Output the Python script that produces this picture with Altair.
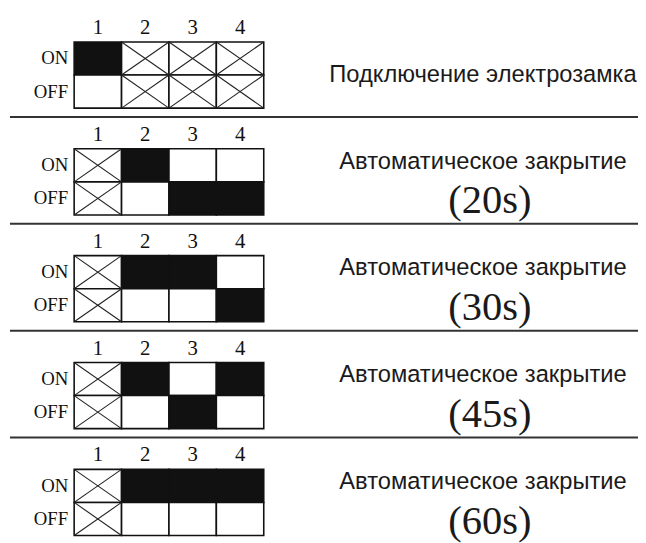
import altair as alt
import pandas as pd

# ---------------- data ----------------
switch_numbers = ["1", "2", "3", "4"]
row_labels = ["ON", "OFF"]
descriptions = [
    "Подключение электрозамка",
    "Автоматическое закрытие",
    "Автоматическое закрытие",
    "Автоматическое закрытие",
    "Автоматическое закрытие",
]
timings = ["", "(20s)", "(30s)", "(45s)", "(60s)"]
# state of each DIP switch per setting: "ON", "OFF" or "X" (not used)
panel_states = [
    ["ON", "X", "X", "X"],
    ["X", "ON", "OFF", "OFF"],
    ["X", "ON", "ON", "OFF"],
    ["X", "ON", "OFF", "ON"],
    ["X", "ON", "ON", "ON"],
]

# ---------------- layout ----------------
W, H, M = 638, 535, 8
GX0, CW = 75, 48          # grid left, cell width
GY0, PITCH, CH = 39, 108.2, 33.5  # first grid top, panel pitch, cell height
NUM_DY = -14
SEP_DY = 76
LABEL_X = 69
TEXT_X = 489
TIME_X = 496
LINE1_DY, LINE2_DY = 13, 53

cells, crosses, nums, labs, seps, texts = [], [], [], [], [], []
for p, states in enumerate(panel_states):
    top = GY0 + p * PITCH
    for c, st in enumerate(states):
        x0 = GX0 + c * CW
        nums.append({"x": x0 + CW / 2, "y": top + NUM_DY, "t": switch_numbers[c]})
        for r, lab in enumerate(row_labels):
            y0 = top + r * CH
            cells.append({"x": x0, "x2": x0 + CW, "y": y0, "y2": y0 + CH,
                          "fill": "#111111" if st == lab else "#ffffff"})
            if st == "X":
                crosses.append({"x": x0, "x2": x0 + CW, "y": y0, "y2": y0 + CH})
                crosses.append({"x": x0, "x2": x0 + CW, "y": y0 + CH, "y2": y0})
    for r, lab in enumerate(row_labels):
        labs.append({"x": LABEL_X, "y": top + r * CH + CH / 2, "t": lab})
    if p < len(panel_states) - 1:
        seps.append({"x": 10, "x2": M + W, "y": top + SEP_DY})
    if timings[p]:
        texts.append({"x": TEXT_X, "y": top + LINE1_DY, "t": descriptions[p], "kind": "d"})
        texts.append({"x": TIME_X, "y": top + LINE2_DY, "t": timings[p], "kind": "t"})
    else:
        texts.append({"x": TEXT_X, "y": top + CH, "t": descriptions[p], "kind": "d"})

xs = alt.Scale(domain=[M, M + W], nice=False, zero=False)
ys = alt.Scale(domain=[M, M + H], nice=False, zero=False, reverse=True)
X = lambda f="x": alt.X(f"{f}:Q", scale=xs, axis=None)
Y = lambda f="y": alt.Y(f"{f}:Q", scale=ys, axis=None)

cell_layer = alt.Chart(pd.DataFrame(cells)).mark_rect(
    stroke="#111111", strokeWidth=1.6
).encode(x=X(), x2="x2:Q", y=Y(), y2="y2:Q", fill=alt.Fill("fill:N", scale=None))

cross_layer = alt.Chart(pd.DataFrame(crosses)).mark_rule(
    color="#222222", strokeWidth=1.1
).encode(x=X(), x2="x2:Q", y=Y(), y2="y2:Q")

sep_layer = alt.Chart(pd.DataFrame(seps)).mark_rule(
    color="#333333", strokeWidth=2
).encode(x=X(), x2="x2:Q", y=Y())

num_layer = alt.Chart(pd.DataFrame(nums)).mark_text(
    font="Liberation Serif", fontSize=21, color="#111111", align="center", baseline="middle"
).encode(x=X(), y=Y(), text="t:N")

lab_layer = alt.Chart(pd.DataFrame(labs)).mark_text(
    font="Liberation Serif", fontSize=19, color="#111111", align="right", baseline="middle"
).encode(x=X(), y=Y(), text="t:N")

tdf = pd.DataFrame(texts)
desc_layer = alt.Chart(tdf[tdf.kind == "d"]).mark_text(
    font="Liberation Sans", fontSize=24, color="#1a1a1a", align="center", baseline="middle"
).encode(x=X(), y=Y(), text="t:N")

time_layer = alt.Chart(tdf[tdf.kind == "t"]).mark_text(
    font="Liberation Serif", fontSize=41, color="#1a1a1a", align="center", baseline="middle"
).encode(x=X(), y=Y(), text="t:N")

chart = alt.layer(
    sep_layer, cell_layer, cross_layer, num_layer, lab_layer, desc_layer, time_layer
).properties(
    width=W, height=H, padding=0, autosize=alt.AutoSizeParams(type="none"),
    background="white"
).configure_view(stroke=None)

chart.save("out.html", embed_options={"renderer": "svg", "actions": False})
